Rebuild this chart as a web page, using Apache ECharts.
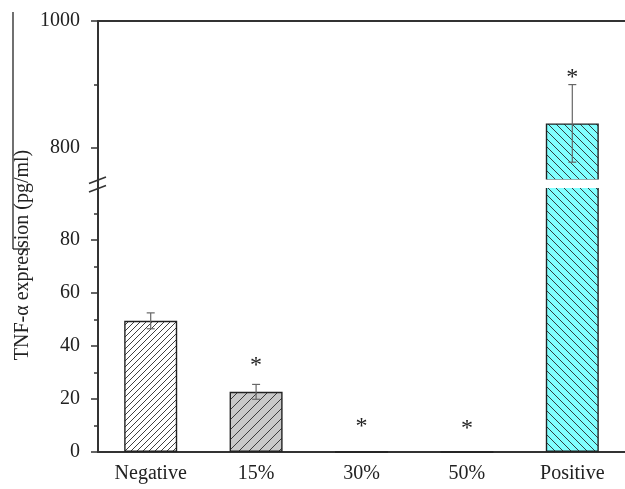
<!DOCTYPE html>
<html><head><meta charset="utf-8">
<script src="https://cdn.jsdelivr.net/npm/echarts@6/dist/echarts.min.js"></script>
<style>html,body{margin:0;padding:0;background:#fff}#c{width:625px;height:489px}</style>
</head><body><div id="c"></div>
<script>
// ---- data ----
const categories = ['Negative', '15%', '30%', '50%', 'Positive'];
const values = [49.5, 22.7, 0, 0, 839];
const errors = [3.0, 2.8, 0, 0, 61];
const starValues = [null, 34.5, 11.3, 10.5, 919];
const lowerTickLabels = [0, 20, 40, 60, 80];
const lowerMinorTicks = [10, 30, 50, 70, 90];
const upperTickLabels = [800, 1000];
const upperMinorTicks = [900];
const lowerRange = [0, 100];
const upperRange = [750, 1000];
const yTitle = 'TNF-\u03b1 expression (pg/ml)';

// ---- styles ----
const FONT = "'Liberation Serif','Times New Roman',serif";
const AX = '#333333';
const fills = [
  { bg: '#ffffff', dir: '/', step: 6 },
  { bg: '#c8c8c8', dir: '/', step: 10 },
  { bg: '#ffffff', dir: '/', step: 6 },
  { bg: '#ffffff', dir: '/', step: 6 },
  { bg: '#80ffff', dir: '\\', step: 8 }
];
function hatch(bg, dir, step) {
  const c = document.createElement('canvas');
  c.width = c.height = step;
  const g = c.getContext('2d');
  g.fillStyle = bg; g.fillRect(0, 0, step, step);
  g.strokeStyle = '#2a2a2a'; g.lineWidth = 0.9;
  g.beginPath();
  for (let k = -1; k <= 1; k++) {
    if (dir === '/') { g.moveTo(k * step, step); g.lineTo(k * step + step, 0); }
    else { g.moveTo(k * step, 0); g.lineTo(k * step + step, step); }
  }
  g.stroke();
  return { image: c, repeat: 'repeat' };
}
const barStyles = fills.map(f => ({ color: hatch(f.bg, f.dir, f.step), borderColor: '#222', borderWidth: 1.4 }));

const chart = echarts.init(document.getElementById('c'));

const GRID_LEFT = 98, GRID_W = 529;
const grids = [
  { left: GRID_LEFT, top: 21, width: GRID_W, height: 159 },
  { left: GRID_LEFT, top: 187, width: GRID_W, height: 265 }
];

function barData(inUpper) {
  return values.map((v, i) => ({
    value: inUpper ? (v > upperRange[0] ? v : null) : v,
    itemStyle: barStyles[i]
  }));
}
function errData(inUpper) {
  return values.map((v, i) => [i, v, errors[i]])
    .filter(d => d[2] > 0 && (inUpper ? d[1] > upperRange[0] : d[1] <= lowerRange[1]));
}
function starData(inUpper) {
  return starValues.map((v, i) => [i, v])
    .filter(d => d[1] != null && (inUpper ? d[1] >= upperRange[0] : d[1] <= lowerRange[1]));
}
function renderErr(params, api) {
  const i = api.value(0), v = api.value(1), e = api.value(2);
  const top = api.coord([i, v + e]);
  const bot = api.coord([i, v - e]);
  const cap = 4;
  const st = { stroke: '#666', lineWidth: 1.2 };
  return {
    type: 'group', children: [
      { type: 'line', shape: { x1: top[0], y1: top[1], x2: bot[0], y2: bot[1] }, style: st },
      { type: 'line', shape: { x1: top[0] - cap, y1: top[1], x2: top[0] + cap, y2: top[1] }, style: st },
      { type: 'line', shape: { x1: bot[0] - cap, y1: bot[1], x2: bot[0] + cap, y2: bot[1] }, style: st }
    ]
  };
}
function renderStar(params, api) {
  const p = api.coord([api.value(0), api.value(1)]);
  return {
    type: 'text', x: p[0], y: p[1] + 5,
    style: { text: '*', font: '24px ' + FONT, fill: '#222', align: 'center', verticalAlign: 'middle' }
  };
}

const labelStyle = { color: '#222', fontSize: 20, fontFamily: FONT };
const plain = v => String(v);

const option = {
  animation: false,
  backgroundColor: '#fff',
  grid: grids,
  xAxis: [
    { gridIndex: 0, type: 'category', data: categories, position: 'top',
      axisLine: { onZero: false, lineStyle: { color: AX, width: 2 } },
      axisTick: { show: false }, axisLabel: { show: false }, splitLine: { show: false } },
    { gridIndex: 1, type: 'category', data: categories, position: 'bottom',
      axisLine: { onZero: false, lineStyle: { color: AX, width: 2 } },
      axisTick: { alignWithLabel: true, length: 6, lineStyle: { color: AX, width: 1.5 } },
      axisLabel: Object.assign({ margin: 12, interval: 0 }, labelStyle), splitLine: { show: false } },
    { gridIndex: 1, type: 'category', data: categories, position: 'bottom',
      axisLine: { show: false },
      axisTick: { length: 3, lineStyle: { color: AX, width: 1.5 } },
      axisLabel: { show: false }, splitLine: { show: false } }
  ],
  yAxis: [
    { gridIndex: 0, type: 'value', position: 'left', min: upperRange[0], max: upperRange[1],
      axisLine: { show: true, lineStyle: { color: AX, width: 2 } },
      axisTick: { show: true, length: 7, customValues: upperTickLabels, lineStyle: { color: AX, width: 1.5 } },
      axisLabel: Object.assign({ margin: 18, customValues: upperTickLabels, formatter: plain }, labelStyle),
      splitLine: { show: false } },
    { gridIndex: 0, type: 'value', position: 'left', min: upperRange[0], max: upperRange[1],
      axisLine: { show: false },
      axisTick: { show: true, length: 4, customValues: upperMinorTicks, lineStyle: { color: AX, width: 1.5 } },
      axisLabel: { show: false }, splitLine: { show: false } },
    { gridIndex: 1, type: 'value', position: 'left', min: lowerRange[0], max: lowerRange[1],
      axisLine: { show: true, lineStyle: { color: AX, width: 2 } },
      axisTick: { show: true, length: 7, customValues: lowerTickLabels, lineStyle: { color: AX, width: 1.5 } },
      axisLabel: Object.assign({ margin: 18, customValues: lowerTickLabels, formatter: plain }, labelStyle),
      splitLine: { show: false } },
    { gridIndex: 1, type: 'value', position: 'left', min: lowerRange[0], max: lowerRange[1],
      axisLine: { show: false },
      axisTick: { show: true, length: 4, customValues: lowerMinorTicks, lineStyle: { color: AX, width: 1.5 } },
      axisLabel: { show: false }, splitLine: { show: false } }
  ],
  series: [
    { type: 'bar', xAxisIndex: 0, yAxisIndex: 0, barWidth: 53, clip: true, data: barData(true) },
    { type: 'bar', xAxisIndex: 1, yAxisIndex: 2, barWidth: 53, clip: true, data: barData(false) },
    { type: 'custom', xAxisIndex: 0, yAxisIndex: 0, renderItem: renderErr, data: errData(true), z: 5 },
    { type: 'custom', xAxisIndex: 1, yAxisIndex: 2, renderItem: renderErr, data: errData(false), z: 5 },
    { type: 'custom', xAxisIndex: 0, yAxisIndex: 0, renderItem: renderStar, data: starData(true), z: 5 },
    { type: 'custom', xAxisIndex: 1, yAxisIndex: 2, renderItem: renderStar, data: starData(false), z: 5 }
  ]
};
chart.setOption(option);

// decorations: axis break marks, gap over the tall bar, y title
const yGapTop = chart.convertToPixel({ yAxisIndex: 0 }, upperRange[0]);
const yGapBot = chart.convertToPixel({ yAxisIndex: 2 }, lowerRange[1]);
const xPos = chart.convertToPixel({ xAxisIndex: 1 }, categories[categories.length - 1]);
const brk = { stroke: AX, lineWidth: 1.6 };
chart.setOption({
  graphic: [
    { type: 'rect', z: 100, shape: { x: xPos - 30, y: yGapTop - 0.5, width: 60, height: yGapBot - yGapTop + 1.5 }, style: { fill: '#fff' } },
    { type: 'line', z: 101, shape: { x1: GRID_LEFT, y1: yGapTop, x2: GRID_LEFT, y2: yGapBot }, style: { stroke: AX, lineWidth: 2 } },
    { type: 'line', z: 101, shape: { x1: GRID_LEFT - 9, y1: yGapTop + 3.5, x2: GRID_LEFT + 8, y2: yGapTop - 3 }, style: brk },
    { type: 'line', z: 101, shape: { x1: GRID_LEFT - 9, y1: yGapBot + 5, x2: GRID_LEFT + 8, y2: yGapBot - 1.5 }, style: brk },
    { type: 'text', z: 101, x: 23, y: 255, rotation: Math.PI / 2,
      style: { text: yTitle, font: '20px ' + FONT, fill: '#222', align: 'center', verticalAlign: 'middle' } },
    { type: 'line', z: 101, shape: { x1: 13, y1: 12, x2: 13, y2: 249 }, style: { stroke: '#111', lineWidth: 1.2 } },
    { type: 'line', z: 101, shape: { x1: 13, y1: 249, x2: 30, y2: 249 }, style: { stroke: '#111', lineWidth: 1.2 } }
  ]
});
</script>
</body></html>
